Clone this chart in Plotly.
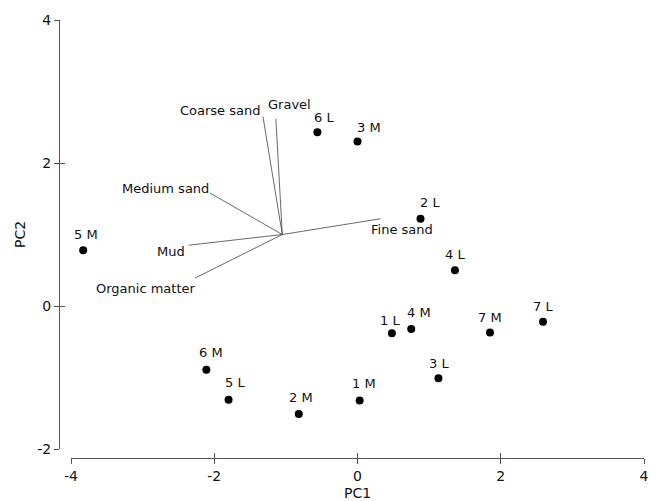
import plotly.graph_objects as go

# ---- data ----
samples = ["1 L", "2 L", "3 L", "4 L", "5 L", "6 L", "7 L",
           "1 M", "2 M", "3 M", "4 M", "5 M", "6 M", "7 M"]
pc1 = [0.48, 0.88, 1.13, 1.36, -1.80, -0.56, 2.59,
       0.03, -0.82, 0.00, 0.75, -3.83, -2.11, 1.85]
pc2 = [-0.38, 1.22, -1.01, 0.50, -1.31, 2.43, -0.22,
       -1.32, -1.51, 2.30, -0.32, 0.78, -0.89, -0.37]

variables = ["Gravel", "Coarse sand", "Medium sand", "Mud", "Organic matter", "Fine sand"]
vec_origin = (-1.05, 1.00)
vec_x = [-1.14, -1.32, -2.06, -2.36, -2.27, 0.32]
vec_y = [2.62, 2.65, 1.58, 0.85, 0.39, 1.22]

x_ticks = [-4, -2, 0, 2, 4]
x_tick_labels = ["-4", "-2", "0", "2", "4"]
y_ticks = [-2, 0, 2, 4]
y_tick_labels = ["-2", "0", "2", "4"]

# ---- label styling (pixel offsets of labels from their points) ----
sample_label_shift = {
    "1 L": (-2, 13), "2 L": (9, 16), "3 L": (1, 15), "4 L": (0, 16),
    "5 L": (6, 17), "6 L": (7, 15), "7 L": (0, 15),
    "1 M": (4, 17), "2 M": (2, 16), "3 M": (11, 14), "4 M": (8, 16),
    "5 M": (3, 16), "6 M": (5, 17), "7 M": (0, 15),
}
var_label_style = {
    "Gravel": ("left", -10, 14),
    "Coarse sand": ("right", -1, 6),
    "Medium sand": ("right", 1, 5),
    "Mud": ("right", -1, -6),
    "Organic matter": ("right", 3, -10),
    "Fine sand": ("left", -11, -11),
}

FONT = "DejaVu Sans"
AXC = "#555555"
TXT = "#111111"

fig = go.Figure()

# loading vectors
lx, ly = [], []
for vx, vy in zip(vec_x, vec_y):
    lx += [vec_origin[0], vx, None]
    ly += [vec_origin[1], vy, None]
fig.add_trace(go.Scatter(x=lx, y=ly, mode="lines",
                         line=dict(color="#444444", width=0.8),
                         hoverinfo="skip", showlegend=False))

# sample points
fig.add_trace(go.Scatter(x=pc1, y=pc2, mode="markers",
                         marker=dict(color="black", size=8),
                         text=samples, showlegend=False))

# dummy trace for overlay axes (inner tick halves)
fig.add_trace(go.Scatter(x=[None], y=[None], xaxis="x2", yaxis="y2",
                         showlegend=False, hoverinfo="skip"))

annotations = []
for s, x, y in zip(samples, pc1, pc2):
    dx, dy = sample_label_shift[s]
    annotations.append(dict(x=x, y=y, text=s, showarrow=False,
                            xanchor="center", yanchor="middle",
                            xshift=dx, yshift=dy,
                            font=dict(family=FONT, size=13, color=TXT)))
for v, x, y in zip(variables, vec_x, vec_y):
    anc, xs, ys = var_label_style[v]
    annotations.append(dict(x=x, y=y, text=v, showarrow=False,
                            xanchor=anc, yanchor="middle",
                            xshift=xs, yshift=ys,
                            font=dict(family=FONT, size=13, color=TXT)))

W, H = 659, 501
ml, mr, mt, mb = 59, 15, 20, 43
pw = W - ml - mr
ph = H - mt - mb
xdom = [(71 - ml) / pw, 1]
ydom = [9 / ph, 1]

axis_common = dict(showgrid=False, zeroline=False, linecolor=AXC, linewidth=1,
                   tickcolor=AXC, ticklen=5, tickwidth=1, automargin=False,
                   tickfont=dict(family=FONT, size=14, color=TXT))

fig.update_layout(
    width=W, height=H,
    margin=dict(l=ml, r=mr, t=mt, b=mb, pad=0, autoexpand=False),
    paper_bgcolor="white", plot_bgcolor="white",
    font=dict(family=FONT, size=13, color=TXT),
    xaxis=dict(range=[-4, 4], domain=xdom, anchor="free", position=0,
               tickvals=x_ticks, ticktext=x_tick_labels,
               ticks="outside", showline=True,
               title=dict(text="PC1", font=dict(family=FONT, size=14, color=TXT), standoff=8),
               **axis_common),
    yaxis=dict(range=[-2, 4], domain=ydom, anchor="free", position=0,
               tickvals=y_ticks, ticktext=y_tick_labels,
               ticks="outside", showline=True,
               title=dict(text="PC2", font=dict(family=FONT, size=14, color=TXT), standoff=7),
               **axis_common),
    xaxis2=dict(range=[-4, 4], domain=xdom, anchor="free", position=0,
                overlaying="x", tickvals=x_ticks, ticks="inside",
                showticklabels=False, showline=False, showgrid=False,
                zeroline=False, tickcolor=AXC, ticklen=5, tickwidth=1,
                automargin=False),
    yaxis2=dict(range=[-2, 4], domain=ydom, anchor="free", position=0,
                overlaying="y", tickvals=y_ticks, ticks="inside",
                showticklabels=False, showline=False, showgrid=False,
                zeroline=False, tickcolor=AXC, ticklen=5, tickwidth=1,
                automargin=False),
    annotations=annotations,
    showlegend=False,
)

fig.write_html("out.html")
